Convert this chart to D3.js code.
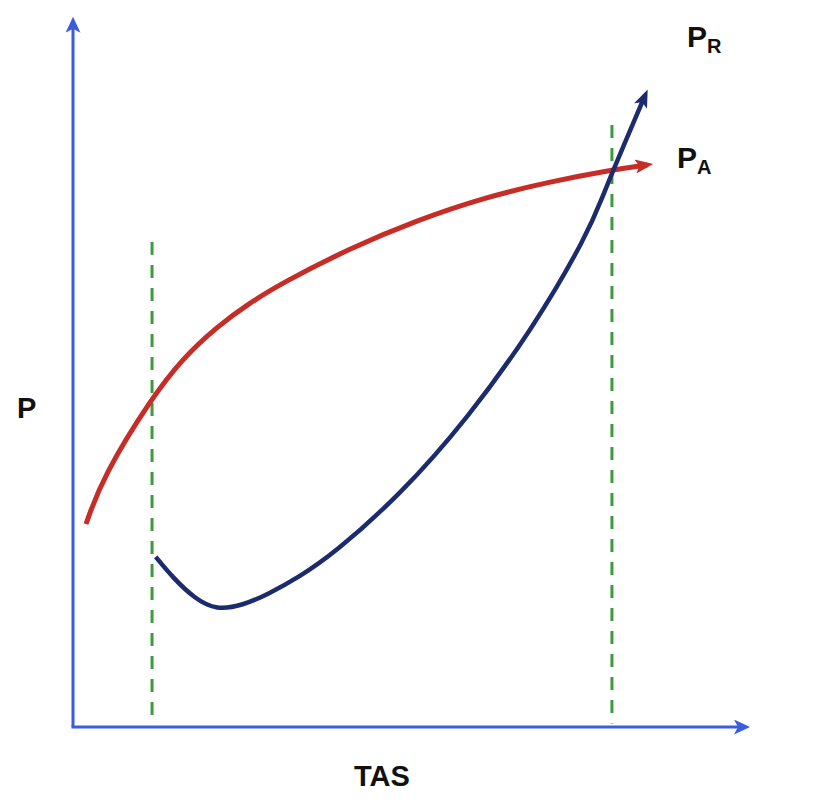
<!DOCTYPE html>
<html>
<head>
<meta charset="utf-8">
<script src="https://cdn.jsdelivr.net/npm/d3@7"></script>
<style>
  html, body { margin: 0; padding: 0; background: #fff; }
  svg { display: block; }
</style>
</head>
<body>
<div id="chart"></div>
<script>
// power available (red) and power required (blue)
const tasAvail = [1.95, 4.5, 11.85, 16.5, 21.6, 26.5, 31.5, 41.5, 51.6, 61.5, 71.5, 80.8, 86.1];
const pAvail   = [29.0, 35.8, 47.1, 52.7, 57.2, 60.6, 63.5, 68.4, 72.4, 75.6, 77.9, 79.6, 80.3];

const tasReq = [12.4, 15.0, 18.3, 21.5, 25.5, 29.1, 34.0, 39.0, 49.0, 59.1, 69.0, 77.1, 79.5, 81.0, 85.8];
const pReq   = [24.3, 21.3, 18.3, 16.7, 17.4, 18.9, 21.5, 24.7, 33.1, 44.0, 57.0, 70.3, 76.0, 79.6, 90.3];

// speed limits (green dashed) : tas and top of line
const limitTas = [11.85, 80.8];
const limitTop = [69.3, 86];

const axisMax = 100.6;

const width = 840, height = 812;

const x = d3.scaleLinear().domain([0, 100]).range([73, 740]);
const y = d3.scaleLinear().domain([0, 100]).range([727, 27]);

const svg = d3.select("#chart").append("svg")
  .attr("width", width)
  .attr("height", height);

const defs = svg.append("defs");
function marker(id, color, len, half) {
  defs.append("marker")
    .attr("id", id)
    .attr("markerUnits", "userSpaceOnUse")
    .attr("viewBox", `${-len} ${-half} ${len + 8} ${half * 2}`)
    .attr("refX", 0)
    .attr("refY", 0)
    .attr("markerWidth", len + 8)
    .attr("markerHeight", half * 2)
    .attr("orient", "auto")
    .append("path")
    .attr("d", `M6,0 L${-len + 6},${-half} L${-len + 10},0 L${-len + 6},${half} Z`)
    .attr("fill", color);
}
marker("arr-axis", "#3b5ce0", 16, 7.5);
marker("arr-red", "#c62d26", 18, 7);
marker("arr-blue", "#1b2b6e", 18, 7);

// limits
svg.append("g")
  .selectAll("line")
  .data(limitTas)
  .join("line")
  .attr("x1", (d) => x(d))
  .attr("x2", (d) => x(d))
  .attr("y1", (d, i) => y(limitTop[i]))
  .attr("y2", y(0.5))
  .attr("stroke", "#3d9a3d")
  .attr("stroke-width", 3)
  .attr("stroke-dasharray", "13,10");

// axes
svg.append("line")
  .attr("x1", x(0)).attr("y1", y(0))
  .attr("x2", x(0)).attr("y2", y(axisMax))
  .attr("stroke", "#3b5ce0")
  .attr("stroke-width", 3)
  .attr("marker-end", "url(#arr-axis)");
svg.append("line")
  .attr("x1", x(0) - 1.5).attr("y1", y(0))
  .attr("x2", x(axisMax)).attr("y2", y(0))
  .attr("stroke", "#3b5ce0")
  .attr("stroke-width", 3)
  .attr("marker-end", "url(#arr-axis)");

const line = d3.line()
  .x((d) => x(d[0]))
  .y((d) => y(d[1]))
  .curve(d3.curveBasis);

svg.append("path")
  .datum(d3.zip(tasAvail, pAvail))
  .attr("d", line)
  .attr("fill", "none")
  .attr("stroke", "#c62d26")
  .attr("stroke-width", 5)
  .attr("marker-end", "url(#arr-red)");

svg.append("path")
  .datum(d3.zip(tasReq, pReq))
  .attr("d", line)
  .attr("fill", "none")
  .attr("stroke", "#1b2b6e")
  .attr("stroke-width", 4.5)
  .attr("marker-end", "url(#arr-blue)");

// labels
const font = "'Liberation Sans', Arial, sans-serif";
svg.append("text")
  .attr("x", 17).attr("y", 418)
  .attr("font-family", font).attr("font-weight", "bold").attr("font-size", 29)
  .attr("fill", "#111")
  .text("P");

svg.append("text")
  .attr("x", 354).attr("y", 786)
  .attr("font-family", font).attr("font-weight", "bold").attr("font-size", 29)
  .attr("fill", "#111")
  .text("TAS");

function sublabel(lx, ly, main, sub) {
  const t = svg.append("text")
    .attr("x", lx).attr("y", ly)
    .attr("font-family", font).attr("font-weight", "bold")
    .attr("fill", "#111");
  t.append("tspan").attr("font-size", 30).text(main);
  t.append("tspan").attr("font-size", 20).attr("dy", 6).text(sub);
}
sublabel(687, 47, "P", "R");
sublabel(677, 168, "P", "A");
</script>
</body>
</html>
